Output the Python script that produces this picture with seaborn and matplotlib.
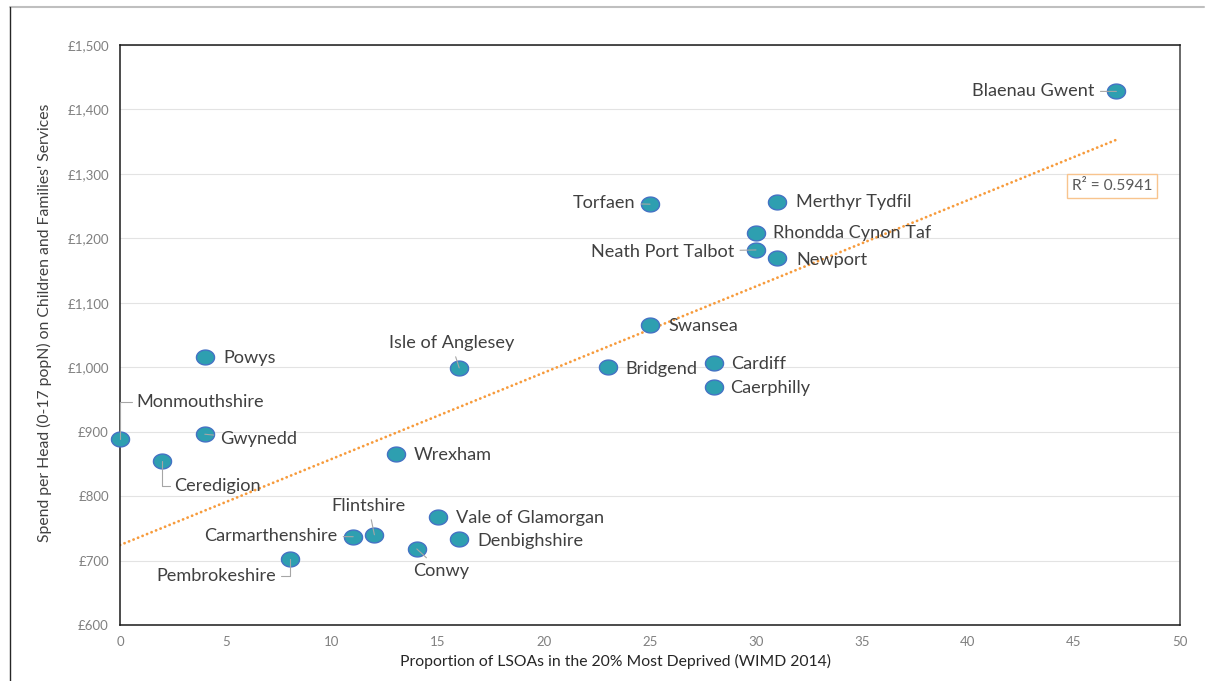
import numpy as np
import pandas as pd
import matplotlib
matplotlib.use("Agg")
import matplotlib.pyplot as plt
from matplotlib.lines import Line2D
from matplotlib.ticker import FuncFormatter
import seaborn as sns

# ---- data ----
authorities = ["Blaenau Gwent", "Merthyr Tydfil", "Torfaen", "Rhondda Cynon Taf",
               "Neath Port Talbot", "Newport", "Swansea", "Bridgend", "Cardiff",
               "Caerphilly", "Isle of Anglesey", "Powys", "Monmouthshire", "Gwynedd",
               "Ceredigion", "Wrexham", "Flintshire", "Carmarthenshire",
               "Vale of Glamorgan", "Denbighshire", "Conwy", "Pembrokeshire"]
deprived_pct = [47, 31, 25, 30, 30, 31, 25, 23, 28, 28, 16, 4, 0, 4, 2, 13, 12, 11, 15, 16, 14, 8]
spend_per_head = [1428, 1257, 1253, 1208, 1182, 1170, 1065, 1000, 1006, 969, 999, 1016,
                  888, 896, 854, 866, 740, 737, 768, 733, 718, 702]
r2_text = "R² = 0.5941"
x_ticks = [0, 5, 10, 15, 20, 25, 30, 35, 40, 45, 50]
y_ticks = [600, 700, 800, 900, 1000, 1100, 1200, 1300, 1400, 1500]
x_label = "Proportion of LSOAs in the 20% Most Deprived (WIMD 2014)"
y_label = "Spend per Head (0-17 popN) on Children and Families' Services"

df = pd.DataFrame({"authority": authorities, "pct": deprived_pct, "spend": spend_per_head})

# ---- label layout (pixel offsets from point, alignment, leader style) ----
label_layout = {
    "Blaenau Gwent": (-22, 0, "right", "line"),
    "Merthyr Tydfil": (19, 0, "left", None),
    "Torfaen": (-15, 1, "right", "line"),
    "Rhondda Cynon Taf": (17, 0, "left", None),
    "Neath Port Talbot": (-22, -2, "right", "line"),
    "Newport": (19, -2, "left", None),
    "Swansea": (18, -1, "left", None),
    "Bridgend": (18, -2, "left", None),
    "Cardiff": (18, -1, "left", None),
    "Caerphilly": (17, -1, "left", None),
    "Isle of Anglesey": (-8, 25, "center", "line"),
    "Powys": (19, -1, "left", None),
    "Monmouthshire": (16, 37, "left", "elbow"),
    "Gwynedd": (15, -5, "left", "line"),
    "Ceredigion": (12, -25, "left", "elbow"),
    "Wrexham": (18, -1, "left", None),
    "Flintshire": (-6, 29, "center", "line"),
    "Carmarthenshire": (-16, 1, "right", "line"),
    "Vale of Glamorgan": (18, -1, "left", None),
    "Denbighshire": (18, -2, "left", None),
    "Conwy": (24, -22, "center", "line"),
    "Pembrokeshire": (-13, -17, "right", "elbow"),
}

sns.set_theme(style="white")
plt.rcParams["font.family"] = ["Lato", "DejaVu Sans"]

fig = plt.figure(figsize=(12.06, 6.81), dpi=100)
ax = fig.add_axes([120 / 1206, 1 - 625 / 681, 1060 / 1206, 580 / 681])

# ellipse marker
t = np.linspace(0, 2 * np.pi, 60)
ell = np.column_stack([np.cos(t), 0.82 * np.sin(t)])

sns.regplot(data=df, x="pct", y="spend", ax=ax, scatter=False, ci=None, truncate=True,
            line_kws=dict(color="#F79B3C", linestyle=(0, (0.05, 1.7)), linewidth=2.0,
                          dash_capstyle="round", zorder=2))
sns.scatterplot(data=df, x="pct", y="spend", ax=ax, marker=ell, s=170,
                color="#2E9FB0", edgecolor="#4472C4", linewidth=1.0, zorder=4,
                legend=False)
for coll in ax.collections:
    coll.set_clip_on(False)

for name, xv, yv in zip(df["authority"], df["pct"], df["spend"]):
    dx, dy, ha, leader = label_layout[name]
    arrow = None
    if leader == "line":
        arrow = dict(arrowstyle="-", color="#A6A6A6", lw=0.8, shrinkA=2, shrinkB=0)
    elif leader == "elbow":
        rel = (0.0, 0.5) if ha == "left" else (1.0, 0.5)
        arrow = dict(arrowstyle="-", color="#A6A6A6", lw=0.8, shrinkA=3, shrinkB=0,
                     patchA=None, relpos=rel,
                     connectionstyle="angle,angleA=0,angleB=90,rad=0")
    ax.annotate(name, xy=(xv, yv), xytext=(dx, dy), textcoords="offset pixels",
                ha=ha, va="center", fontsize=13.1, color="#404040",
                arrowprops=arrow, zorder=5, annotation_clip=False)

ax.text(46.8, 1281, r2_text, ha="center", va="center", fontsize=11.2, color="#595959",
        bbox=dict(boxstyle="square,pad=0.3", facecolor="white", edgecolor="#F8C48E", lw=1.0),
        zorder=6)

ax.set_xlim(0, 50)
ax.set_ylim(600, 1500)
ax.set_xticks(x_ticks)
ax.set_yticks(y_ticks)
ax.yaxis.set_major_formatter(FuncFormatter(lambda v, p: f"£{int(v):,}"))
ax.tick_params(axis="both", labelsize=9.5, colors="#808080", length=0, pad=8)
ax.grid(axis="y", color="#E3E3E3", linewidth=0.8)
ax.grid(axis="x", visible=False)
ax.set_axisbelow(True)
for side in ["left", "bottom", "top"]:
    ax.spines[side].set_color("#1A1A1A")
    ax.spines[side].set_linewidth(1.1)
ax.spines["right"].set_color("#404040")
ax.spines["right"].set_linewidth(1.1)

ax.set_xlabel(x_label, fontsize=11.3, color="#262626")
ax.set_ylabel(y_label, fontsize=11.3, color="#404040")
ax.xaxis.set_label_coords((616 - 120) / 1060, -(654 - 625) / 580)
ax.yaxis.set_label_coords((52 - 120) / 1060, (625 - 323) / 580)

# outer frame lines
fig.add_artist(Line2D([10 / 1206, 1204 / 1206], [1 - 7 / 681, 1 - 7 / 681],
                      transform=fig.transFigure, color="#BFBFBF", lw=1.5))
fig.add_artist(Line2D([10 / 1206, 10 / 1206], [0, 1 - 7 / 681],
                      transform=fig.transFigure, color="#262626", lw=1.0))

fig.savefig("out.png", dpi=100)
